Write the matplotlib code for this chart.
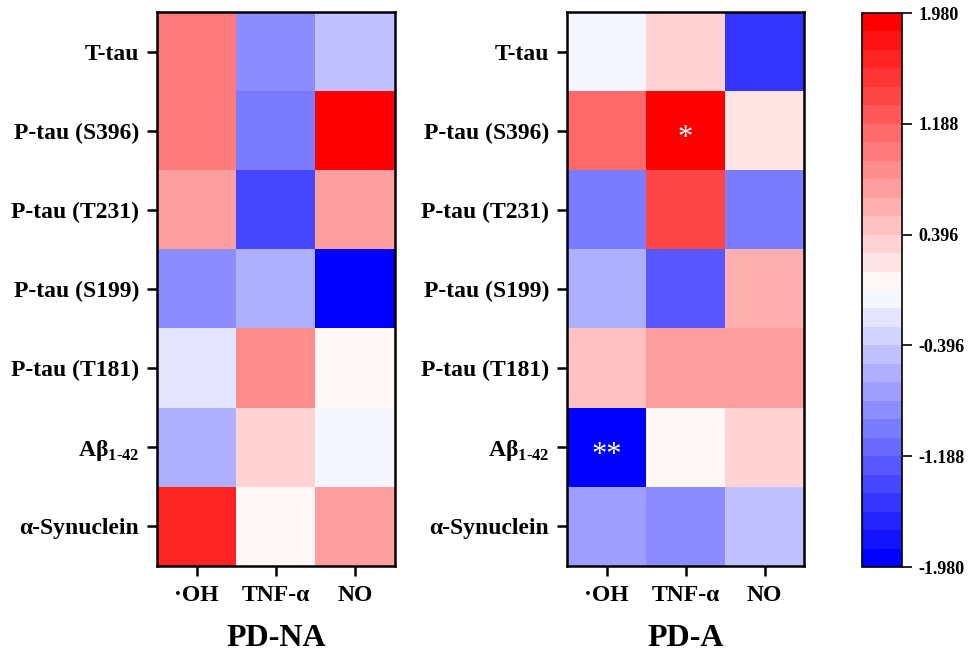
import numpy as np
import matplotlib
matplotlib.use("Agg")
import matplotlib.pyplot as plt
from matplotlib.colors import LinearSegmentedColormap, BoundaryNorm

plt.rcParams['font.family'] = ['Liberation Serif', 'DejaVu Serif']
plt.rcParams['font.weight'] = 'bold'

# data
rows = ['T-tau', 'P-tau (S396)', 'P-tau (T231)', 'P-tau (S199)',
        'P-tau (T181)', 'Aβ$_{\\mathregular{1\u201042}}$', 'α-Synuclein']
cols = ['·OH', 'TNF-α', 'NO']

pd_na = [[1.05, -0.89, -0.46],
         [0.93, -1.05, 1.95],
         [0.78, -1.44, 0.74],
         [-0.89, -0.62, -1.95],
         [-0.20, 0.80, 0.07],
         [-0.54, 0.39, -0.10],
         [1.67, 0.07, 0.74]]

pd_a = [[-0.07, 0.39, -1.50],
        [1.13, 1.90, 0.23],
        [-0.93, 1.44, -1.05],
        [-0.54, -1.20, 0.66],
        [0.50, 0.78, 0.78],
        [-1.95, 0.07, 0.35],
        [-0.74, -0.89, -0.46]]

# significance marks (row, col, text) for PD-A
stars_a = [(1, 1, '*'), (5, 0, '**')]

cb_ticks = [-1.980, -1.188, -0.396, 0.396, 1.188, 1.980]

cmap = LinearSegmentedColormap.from_list('bwr_prism', ['#0000FF', '#FFFFFF', '#FF0000'], N=30)
bounds = np.linspace(-1.98, 1.98, 31)
norm = BoundaryNorm(bounds, 30)

fig = plt.figure(figsize=(9.69, 6.54), dpi=100)
ax1 = fig.add_axes([157 / 969, 1 - 566 / 654, 238 / 969, 554 / 654])
ax2 = fig.add_axes([567 / 969, 1 - 566 / 654, 237 / 969, 554 / 654])
cax = fig.add_axes([862 / 969, 1 - 567 / 654, 40 / 969, 554 / 654])


def draw(ax, data, title, stars=()):
    im = ax.imshow(np.array(data), cmap=cmap, norm=norm, aspect='auto')
    ax.set_xticks(range(len(cols)))
    ax.set_xticklabels(cols, fontsize=17, fontweight='bold')
    ax.set_yticks(range(len(rows)))
    ax.set_yticklabels(rows, fontsize=17, fontweight='bold')
    ax.tick_params(axis='both', length=7, width=1.8, pad=6)
    ax.tick_params(axis='x', pad=7)
    for s in ax.spines.values():
        s.set_linewidth(1.8)
    ax.set_xlabel(title, fontsize=23, fontweight='bold', labelpad=13)
    for r, c, t in stars:
        ax.text(c, r + 0.1, t, ha='center', va='center', color='white',
                fontsize=22, fontweight='normal')
    return im


im = draw(ax1, pd_na, 'PD-NA')
draw(ax2, pd_a, 'PD-A', stars_a)

cb = fig.colorbar(im, cax=cax, ticks=cb_ticks)
cb.minorticks_off()
cb.ax.set_yticklabels(['%.3f' % t for t in cb_ticks], fontsize=13, fontweight='bold')
cb.ax.tick_params(length=7, width=1.2, pad=5)
cb.outline.set_linewidth(1.2)

fig.savefig('out.png', dpi=100)
